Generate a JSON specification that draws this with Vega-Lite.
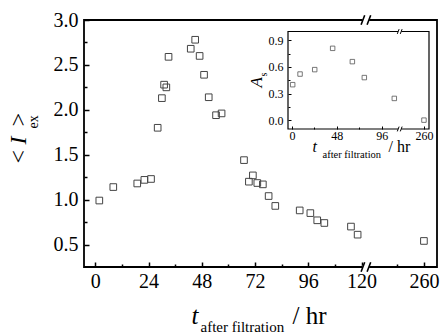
{
  "$schema": "https://vega.github.io/schema/vega-lite/v6.json",
  "width": 353,
  "height": 247,
  "autosize": {"type": "none"},
  "padding": {"left": 84, "top": 20, "right": 3, "bottom": 66},
  "background": "white",
  "datasets": {
    "main": [
      {"t": 1.8, "I": 0.99}, {"t": 8.1, "I": 1.14}, {"t": 18.9, "I": 1.18}, {"t": 22.1, "I": 1.22},
      {"t": 25.1, "I": 1.23}, {"t": 28.1, "I": 1.80}, {"t": 30.0, "I": 2.13}, {"t": 31.0, "I": 2.28},
      {"t": 32.0, "I": 2.25}, {"t": 33.0, "I": 2.59}, {"t": 43.0, "I": 2.68}, {"t": 45.0, "I": 2.78},
      {"t": 47.0, "I": 2.60}, {"t": 49.0, "I": 2.39}, {"t": 51.1, "I": 2.14}, {"t": 54.4, "I": 1.94},
      {"t": 56.9, "I": 1.96}, {"t": 67.0, "I": 1.44}, {"t": 69.2, "I": 1.20}, {"t": 71.0, "I": 1.27},
      {"t": 73.0, "I": 1.185}, {"t": 75.5, "I": 1.17}, {"t": 78.1, "I": 1.04}, {"t": 81.1, "I": 0.93},
      {"t": 92.1, "I": 0.88}, {"t": 96.9, "I": 0.85}, {"t": 100.0, "I": 0.77}, {"t": 103.2, "I": 0.74},
      {"t": 115.2, "I": 0.70}, {"t": 118.2, "I": 0.61}, {"t": 260, "I": 0.54}
    ],
    "inset": [
      {"t": 0.7, "A": 0.40}, {"t": 8.6, "A": 0.52}, {"t": 24.3, "A": 0.57}, {"t": 43.5, "A": 0.81},
      {"t": 64.6, "A": 0.66}, {"t": 77.4, "A": 0.48}, {"t": 109.5, "A": 0.245}, {"t": 260, "A": 0.0}
    ],
    "mainBreaks": [{"t": 122.2, "v": 0.25}, {"t": 122.2, "v": 3.0}],
    "insetBreaks": [{"t": 115.6, "v": -0.1}, {"t": 115.6, "v": 1.0}],
    "one": [{}]
  },
  "resolve": {
    "scale": {"x": "independent", "y": "independent"},
    "axis": {"x": "independent", "y": "independent"}
  },
  "layer": [
    {
      "data": {"name": "main"},
      "mark": {"type": "point", "shape": "square", "size": 44, "filled": false, "stroke": "#444444", "strokeWidth": 1, "opacity": 1},
      "encoding": {
        "x": {"field": "t", "type": "quantitative",
          "scale": {"domain": [-5.1, 122.2, 234.1, 265.9], "range": [0, 282.5, 282.5, 353], "nice": false, "zero": false},
          "axis": {"orient": "bottom", "values": [0, 24, 48, 72, 96, 120, 260], "domain": false, "tickSize": -5, "tickWidth": 1.5,
            "labelPadding": 9, "labelFontSize": 20, "title": "t", "titleFontStyle": "italic", "titleFontSize": 25,
            "titleX": 107, "titleY": 56, "titleAlign": "left", "titleBaseline": "alphabetic", "titleAngle": 0}},
        "y": {"field": "I", "type": "quantitative",
          "scale": {"domain": [0.25, 3.0], "nice": false, "zero": false},
          "axis": {"orient": "left", "values": [0.5, 1, 1.5, 2, 2.5, 3], "format": ".1f", "domain": false, "tickSize": -5, "tickWidth": 1.5,
            "labelPadding": 11, "labelFontSize": 20, "title": "I", "titleFontStyle": "italic", "titleFontSize": 24,
            "titleAngle": 270, "titleX": -59, "titleY": 124, "titleAlign": "left", "titleBaseline": "alphabetic"}}
      }
    },
    {
      "data": {"name": "one"},
      "mark": {"type": "point", "opacity": 0},
      "encoding": {
        "x": {"datum": 0, "type": "quantitative",
          "scale": {"domain": [-5.1, 122.2, 234.1, 265.9], "range": [0, 282.5, 282.5, 353], "nice": false, "zero": false},
          "axis": {"orient": "bottom", "values": [12, 36, 60, 84, 108, 248], "domain": false, "labels": false, "tickSize": -3, "tickWidth": 1.5,
            "title": "after filtration", "titleFontSize": 15, "titleFontStyle": "normal",
            "titleX": 116, "titleY": 64, "titleAlign": "left", "titleBaseline": "alphabetic", "titleAngle": 0}},
        "y": {"datum": 0, "type": "quantitative",
          "scale": {"domain": [0.25, 3.0], "nice": false, "zero": false},
          "axis": {"orient": "left", "values": [0.75, 1.25, 1.75, 2.25, 2.75], "domain": false, "labels": false, "tickSize": -3, "tickWidth": 1.5,
            "title": "ex", "titleFontSize": 14, "titleFontStyle": "normal",
            "titleAngle": 270, "titleX": -47, "titleY": 108, "titleAlign": "left", "titleBaseline": "alphabetic"}}
      }
    },
    {
      "data": {"name": "one"},
      "mark": {"type": "point", "opacity": 0},
      "encoding": {
        "x": {"datum": 0, "type": "quantitative",
          "scale": {"domain": [-5.1, 122.2, 234.1, 265.9], "range": [0, 282.5, 282.5, 353], "nice": false, "zero": false},
          "axis": {"orient": "bottom", "values": [], "domain": false, "labels": false, "ticks": false,
            "title": "/ hr", "titleFontSize": 25, "titleFontStyle": "normal",
            "titleX": 208, "titleY": 56, "titleAlign": "left", "titleBaseline": "alphabetic", "titleAngle": 0}},
        "y": {"datum": 0, "type": "quantitative",
          "scale": {"domain": [0.25, 3.0], "nice": false, "zero": false},
          "axis": {"orient": "left", "values": [], "domain": false, "labels": false, "ticks": false,
            "title": "<", "titleFontSize": 24, "titleFontStyle": "normal",
            "titleAngle": 270, "titleX": -59, "titleY": 143, "titleAlign": "left", "titleBaseline": "alphabetic"}}
      }
    },
    {
      "data": {"name": "one"},
      "mark": {"type": "point", "opacity": 0},
      "encoding": {
        "x": {"datum": 0, "type": "quantitative",
          "scale": {"domain": [-4.3, 115.6, 234.3, 265.4], "range": [204, 316, 316, 345], "nice": false, "zero": false},
          "axis": {"orient": "bottom", "offset": -138, "zindex": 1, "values": [], "domain": false, "labels": false, "ticks": false,
            "title": "/ hr", "titleFontSize": 16, "titleFontStyle": "normal",
            "titleX": 304, "titleY": 22, "titleAlign": "left", "titleBaseline": "alphabetic", "titleAngle": 0}},
        "y": {"datum": 0, "type": "quantitative",
          "scale": {"domain": [0.25, 3.0], "nice": false, "zero": false},
          "axis": {"orient": "left", "values": [], "domain": false, "labels": false, "ticks": false,
            "title": ">", "titleFontSize": 24, "titleFontStyle": "normal",
            "titleAngle": 270, "titleX": -59, "titleY": 106, "titleAlign": "left", "titleBaseline": "alphabetic"}}
      }
    },
    {
      "data": {"name": "mainBreaks"},
      "mark": {"type": "point", "shape": "M-0.65,-0.3L0.45,-0.3L0.45,0.3L-0.65,0.3Z", "size": 144, "filled": true, "fill": "white", "strokeWidth": 0, "opacity": 1},
      "encoding": {
        "x": {"field": "t", "type": "quantitative",
          "scale": {"domain": [-5.1, 122.2, 234.1, 265.9], "range": [0, 282.5, 282.5, 353], "nice": false, "zero": false}, "axis": null},
        "y": {"field": "v", "type": "quantitative",
          "scale": {"domain": [0.25, 3.0], "nice": false, "zero": false}, "axis": null}
      }
    },
    {
      "data": {"name": "mainBreaks"},
      "mark": {"type": "point", "shape": "M-0.9,0.8L-0.3,-0.8M0.1,0.8L0.7,-0.8", "size": 144, "filled": false, "stroke": "black", "strokeWidth": 1.6, "opacity": 1},
      "encoding": {
        "x": {"field": "t", "type": "quantitative",
          "scale": {"domain": [-5.1, 122.2, 234.1, 265.9], "range": [0, 282.5, 282.5, 353], "nice": false, "zero": false}, "axis": null},
        "y": {"field": "v", "type": "quantitative",
          "scale": {"domain": [0.25, 3.0], "nice": false, "zero": false}, "axis": null}
      }
    },
    {
      "data": {"name": "one"},
      "mark": {"type": "rect", "fill": "white", "stroke": "black", "strokeWidth": 1.2},
      "encoding": {
        "x": {"datum": -4.3, "type": "quantitative",
          "scale": {"domain": [-4.3, 115.6, 234.3, 265.4], "range": [204, 316, 316, 345], "nice": false, "zero": false}, "axis": null},
        "x2": {"datum": 265.4},
        "y": {"datum": -0.1, "type": "quantitative",
          "scale": {"domain": [-0.1, 1.0], "range": [109, 11.5], "nice": false, "zero": false}, "axis": null},
        "y2": {"datum": 1.0}
      }
    },
    {
      "data": {"name": "inset"},
      "mark": {"type": "point", "shape": "square", "size": 20, "filled": false, "stroke": "#555555", "strokeWidth": 0.8, "opacity": 1},
      "encoding": {
        "x": {"field": "t", "type": "quantitative",
          "scale": {"domain": [-4.3, 115.6, 234.3, 265.4], "range": [204, 316, 316, 345], "nice": false, "zero": false},
          "axis": {"orient": "bottom", "offset": -138, "zindex": 1, "values": [0, 48, 96, 260], "domain": false, "tickSize": -3, "tickWidth": 1,
            "labelPadding": 4, "labelFontSize": 12, "title": "t", "titleFontStyle": "italic", "titleFontSize": 16,
            "titleX": 228, "titleY": 22, "titleAlign": "left", "titleBaseline": "alphabetic", "titleAngle": 0}},
        "y": {"field": "A", "type": "quantitative",
          "scale": {"domain": [-0.1, 1.0], "range": [109, 11.5], "nice": false, "zero": false},
          "axis": {"orient": "left", "offset": -204, "zindex": 1, "values": [0, 0.3, 0.6, 0.9], "format": ".1f", "domain": false, "tickSize": -3, "tickWidth": 1,
            "labelPadding": 8, "labelFontSize": 12, "title": "A", "titleFontStyle": "italic", "titleFontSize": 17,
            "titleAngle": 270, "titleX": -27, "titleY": 67, "titleAlign": "left", "titleBaseline": "alphabetic"}}
      }
    },
    {
      "data": {"name": "one"},
      "mark": {"type": "point", "opacity": 0},
      "encoding": {
        "x": {"datum": 0, "type": "quantitative",
          "scale": {"domain": [-4.3, 115.6, 234.3, 265.4], "range": [204, 316, 316, 345], "nice": false, "zero": false},
          "axis": {"orient": "bottom", "offset": -138, "zindex": 1, "values": [24, 72], "domain": false, "labels": false, "tickSize": -2, "tickWidth": 1,
            "title": "after filtration", "titleFontSize": 10.5, "titleFontStyle": "normal",
            "titleX": 238, "titleY": 28.5, "titleAlign": "left", "titleBaseline": "alphabetic", "titleAngle": 0}},
        "y": {"datum": 0, "type": "quantitative",
          "scale": {"domain": [-0.1, 1.0], "range": [109, 11.5], "nice": false, "zero": false},
          "axis": {"orient": "left", "offset": -204, "zindex": 1, "values": [0.15, 0.45, 0.75], "domain": false, "labels": false, "tickSize": -2, "tickWidth": 1,
            "title": "s", "titleFontSize": 10, "titleFontStyle": "normal",
            "titleAngle": 270, "titleX": -22, "titleY": 56, "titleAlign": "left", "titleBaseline": "alphabetic"}}
      }
    },
    {
      "data": {"name": "insetBreaks"},
      "mark": {"type": "point", "shape": "M-0.65,-0.35L0.45,-0.35L0.45,0.35L-0.65,0.35Z", "size": 36, "filled": true, "fill": "white", "strokeWidth": 0, "opacity": 1},
      "encoding": {
        "x": {"field": "t", "type": "quantitative",
          "scale": {"domain": [-4.3, 115.6, 234.3, 265.4], "range": [204, 316, 316, 345], "nice": false, "zero": false}, "axis": null},
        "y": {"field": "v", "type": "quantitative",
          "scale": {"domain": [-0.1, 1.0], "range": [109, 11.5], "nice": false, "zero": false}, "axis": null}
      }
    },
    {
      "data": {"name": "insetBreaks"},
      "mark": {"type": "point", "shape": "M-0.9,0.8L-0.3,-0.8M0.1,0.8L0.7,-0.8", "size": 36, "filled": false, "stroke": "black", "strokeWidth": 1, "opacity": 1},
      "encoding": {
        "x": {"field": "t", "type": "quantitative",
          "scale": {"domain": [-4.3, 115.6, 234.3, 265.4], "range": [204, 316, 316, 345], "nice": false, "zero": false}, "axis": null},
        "y": {"field": "v", "type": "quantitative",
          "scale": {"domain": [-0.1, 1.0], "range": [109, 11.5], "nice": false, "zero": false}, "axis": null}
      }
    }
  ],
  "config": {
    "font": "Liberation Serif",
    "view": {"stroke": "black", "strokeWidth": 1.8},
    "axis": {
      "labelFont": "Liberation Serif", "titleFont": "Liberation Serif", "grid": false,
      "labelColor": "black", "titleColor": "black", "tickColor": "black", "domainColor": "black",
      "titleFontWeight": "normal", "labelFlush": false, "labelOverlap": false, "titlePadding": 0
    }
  }
}
